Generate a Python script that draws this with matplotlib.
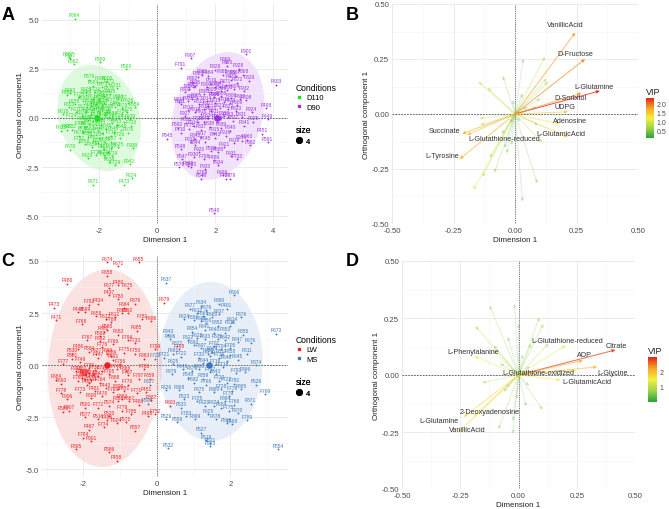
import matplotlib
matplotlib.use('Agg')
import matplotlib.pyplot as plt
import numpy as np
from matplotlib.patches import Ellipse
from matplotlib.colors import LinearSegmentedColormap, Normalize
from matplotlib.cm import ScalarMappable
from matplotlib.lines import Line2D

plt.rcParams['font.family'] = ['Liberation Sans', 'DejaVu Sans']
plt.rcParams['axes.unicode_minus'] = False

# ---------------- Panel A data ----------------
a_d110 = [("F664", -2.85, 5.05), ("F887", -3.05, 3.1), ("F667", -3.0, 3.05), ("F562", -2.88, 2.75),
          ("F589", -1.97, 2.85), ("F590", -1.07, 2.48), ("F579", -2.35, 1.95), ("F684", -2.2, 1.65),
          ("F606", -1.95, 1.85), ("F600", -1.72, 1.85), ("F471", -1.65, 1.72), ("F573", -1.9, 1.55),
          ("F576", -1.65, 1.35), ("F619", -1.62, 1.2), ("F605", -2.45, 1.3), ("F609", -2.45, 1.15),
          ("F662", -3.1, 1.15), ("F663", -3.0, 1.25), ("F581", -2.55, 0.85), ("F614", -2.2, 0.95),
          ("F620", -2.0, 0.9), ("F583", -1.85, 0.75), ("F624", -1.35, 0.95), ("F627", -1.25, 0.9),
          ("F626", -1.0, 0.75), ("F559", -0.78, 0.55), ("F655", -2.85, 0.7), ("F653", -3.05, 0.55),
          ("F618", -3.25, 0.2), ("F611", -2.8, 0.3), ("F608", -2.6, 0.1), ("F612", -2.3, 0.2),
          ("F615", -2.1, 0.05), ("F617", -2.0, 0.25), ("F622", -1.8, 0.15), ("F628", -1.55, 0.1),
          ("F629", -1.35, 0.0), ("F639", -0.95, -0.05), ("F633", -3.3, -0.65), ("F637", -3.1, -0.6),
          ("F632", -2.95, -0.6), ("F640", -2.5, -0.45), ("F641", -2.35, -0.3), ("F643", -2.15, -0.5),
          ("F644", -1.95, -0.35), ("F645", -1.75, -0.55), ("F646", -1.5, -0.7), ("F648", -1.25, -0.6),
          ("F676", -1.0, -0.75), ("F650", -2.4, -0.95), ("F652", -2.2, -1.15), ("F654", -2.0, -1.0),
          ("F656", -1.8, -1.25), ("F657", -1.6, -1.2), ("F658", -2.5, -1.35), ("F659", -2.25, -1.5),
          ("F661", -1.85, -1.6), ("F665", -1.6, -1.55), ("F625", -1.35, -1.5), ("F939", -0.85, -1.55),
          ("F670", -3.0, -1.62), ("F423", -2.4, -2.05), ("F621", -1.85, -1.9), ("F634", -1.65, -2.25),
          ("F942", -0.95, -2.35), ("F671", -2.2, -3.4), ("F473", -1.15, -3.4), ("F624", -0.88, -3.08),
          ("F666", -2.05, 0.55), ("F668", -1.7, 0.45), ("F672", -2.55, 0.45), ("F673", -2.2, -0.15),
          ("F674", -1.9, -0.75), ("F675", -2.7, -0.9), ("F677", -2.05, -1.3), ("F678", -1.45, 0.55),
          ("F679", -1.2, 0.5), ("F680", -2.3, 0.6), ("F681", -1.75, 0.95), ("F682", -2.35, -0.7),
          ("F683", -1.55, -0.25), ("F685", -2.6, -0.2),
          ("F700", -2.3, 0.75), ("F701", -2.1, 0.7), ("F702", -1.9, 0.6), ("F703", -1.75, 0.3),
          ("F704", -2.45, 0.3), ("F705", -2.25, 0.4), ("F706", -2.05, 0.35), ("F707", -1.65, 0.05),
          ("F708", -1.9, -0.05), ("F709", -2.4, -0.1), ("F710", -2.65, -0.45), ("F711", -2.05, -0.65),
          ("F712", -1.6, -0.9), ("F713", -1.4, -0.35), ("F714", -1.15, -0.2), ("F715", -2.3, -0.85),
          ("F716", -1.95, -1.45), ("F717", -1.7, -1.75), ("F718", -2.1, -1.9), ("F719", -1.55, -1.95),
          ("F720", -2.15, 1.3), ("F721", -1.85, 1.1), ("F722", -1.5, 0.75), ("F723", -2.7, 1.05),
          ("F724", -2.95, 0.0), ("F725", -1.05, 0.3), ("F726", -1.3, -1.0), ("F727", -2.55, -0.7),
          ("F728", -1.8, -2.0), ("F729", -1.45, -2.4), ("F730", -2.0, 1.15), ("F731", -1.4, 1.5),
          ("F732", -2.7, -1.2), ("F733", -0.9, -0.4), ("F734", -1.2, 0.2)]
a_d90 = [("F907", 1.15, 3.05), ("F791", 0.8, 2.55), ("F901", 3.05, 3.25), ("F869", 2.35, 2.85),
         ("F850", 2.4, 2.65), ("F603", 4.1, 1.7), ("F829", 3.15, 1.9), ("F861", 1.55, 2.2),
         ("F864", 1.75, 2.15), ("F865", 2.25, 2.2), ("F866", 2.5, 2.15), ("F867", 2.7, 2.15),
         ("F868", 2.95, 2.2), ("F870", 2.55, 1.95), ("F519", 1.85, 1.75), ("F871", 2.35, 1.7),
         ("F872", 2.75, 1.8), ("F896", 2.2, 1.35), ("F800", 1.1, 1.45), ("F802", 0.95, 1.3),
         ("F803", 1.6, 1.2), ("F805", 1.85, 1.3), ("F806", 2.55, 1.0), ("F807", 2.85, 0.95),
         ("F808", 3.05, 0.9), ("F810", 0.75, 0.8), ("F811", 0.8, 0.7), ("F812", 1.2, 0.95),
         ("F813", 1.45, 0.7), ("F814", 1.7, 0.85), ("F815", 2.0, 0.75), ("F816", 2.3, 0.8),
         ("F817", 1.05, 0.4), ("F818", 1.3, 0.3), ("F819", 1.6, 0.45), ("F820", 1.85, 0.35),
         ("F821", 2.15, 0.5), ("F822", 2.45, 0.45), ("F823", 2.7, 0.35), ("F498", 3.75, 0.5),
         ("F449", 3.8, -0.05), ("F831", 2.9, 0.05), ("F832", 2.6, -0.15), ("F833", 2.3, 0.1),
         ("F834", 1.75, 0.0), ("F835", 1.4, -0.2), ("F836", 1.0, -0.25), ("F592", 0.7, -0.5),
         ("F775", 1.1, -0.55), ("F837", 1.5, -0.6), ("F838", 1.8, -0.45), ("F839", 2.2, -0.5),
         ("F840", 2.5, -0.65), ("F841", 3.0, -0.4), ("F451", 3.6, -0.8), ("F591", 3.8, -1.25),
         ("F545", 0.35, -1.05), ("F710", 0.8, -0.75), ("F842", 1.3, -1.05), ("F745", 1.65, -1.2),
         ("F843", 2.0, -1.0), ("F956", 2.9, -1.15), ("F960", 3.1, -1.1), ("F962", 3.2, -1.4),
         ("F548", 0.8, -1.6), ("F844", 1.3, -1.4), ("F589", 1.85, -1.7), ("F585", 2.1, -1.75),
         ("F547", 0.85, -2.1), ("F798", 1.6, -2.1), ("F486", 1.95, -2.15), ("F733", 2.75, -2.1),
         ("F578", 0.75, -2.5), ("F890", 1.05, -2.45), ("F893", 1.15, -2.5), ("F769", 1.55, -2.9),
         ("F549", 1.5, -3.1), ("F666", 2.25, -2.9), ("F739", 2.35, -3.1), ("F779", 2.5, -3.1),
         ("F540", 1.95, -4.85), ("F862", 1.2, 1.85), ("F863", 1.4, 2.1), ("F846", 1.95, 1.05),
         ("F847", 2.15, 1.6), ("F848", 1.6, -0.2), ("F849", 2.05, -0.2), ("F851", 1.25, 1.55),
         ("F900", 1.7, 1.55), ("F902", 2.0, 1.55), ("F903", 2.4, 1.4), ("F904", 2.65, 1.45),
         ("F905", 1.35, 1.0), ("F906", 1.95, 1.05), ("F908", 2.2, 1.1), ("F909", 2.75, 0.65),
         ("F910", 1.5, 0.2), ("F911", 1.95, 0.2), ("F912", 2.15, -0.05), ("F913", 2.45, 0.05),
         ("F914", 1.25, -0.4), ("F915", 1.95, -0.75), ("F916", 2.35, -0.9), ("F917", 1.5, -0.95),
         ("F918", 2.65, -1.3), ("F919", 1.15, -1.25), ("F920", 1.45, -1.75), ("F921", 2.3, -1.5),
         ("F922", 1.75, 0.6), ("F923", 2.5, 0.75), ("F924", 3.25, 0.3), ("F925", 3.3, -0.2),
         ("F926", 1.05, 0.85), ("F927", 0.95, 0.1), ("F928", 2.8, 2.5), ("F929", 2.0, 2.45),
         ("F930", 1.25, -2.0), ("F931", 2.55, -1.95), ("F932", 3.0, 1.35), ("F933", 1.65, -2.6),
         ("F934", 2.1, -2.4), ("F935", 1.3, 1.65)]
a_centroids = {"D110": (-2.07, 0.0), "D90": (2.05, 0.0)}
a_ellipses = {"D110": (-2.0, 0.0, 2.8, 5.45, 8), "D90": (2.08, 0.1, 3.1, 6.55, -8)}

# ---------------- Panel C data ----------------
c_lw = [("F674", -1.35, 4.95), ("F671", -1.05, 4.75), ("F655", -0.5, 4.95), ("F658", -1.35, 4.3),
        ("F480", -2.45, 3.9), ("F480", -1.05, 3.85), ("F677", -1.3, 3.7), ("F675", -0.8, 3.7),
        ("F437", -1.3, 3.35), ("F473", -2.8, 2.75), ("F434", -1.6, 2.95), ("F676", -0.6, 2.95),
        ("F448", -2.15, 2.55), ("F599", -1.95, 2.55), ("F664", -0.9, 2.75), ("F862", -0.95, 2.5),
        ("F892", -0.8, 2.5), ("F658", -1.65, 2.35), ("F672", -1.4, 2.2), ("F612", -1.15, 2.3),
        ("F471", -2.75, 2.15), ("F688", -0.15, 2.1), ("F679", 0.2, 3.0), ("F595", -1.35, 1.7),
        ("F681", -1.45, 1.6), ("F582", -1.55, 1.4), ("F683", -1.05, 1.45), ("F685", -0.55, 1.65),
        ("F662", -1.55, 1.15), ("F794", -0.8, 1.2), ("F733", -0.6, 1.05), ("F486", -2.15, 0.75),
        ("F530", -2.3, 0.55), ("F501", -2.3, 0.3), ("F584", -1.85, 0.65), ("F627", -1.65, 0.55),
        ("F669", -1.35, 0.55), ("F589", -1.25, 0.45), ("F591", -1.2, 0.25), ("F798", 0.6, 0.75),
        ("F799", -0.05, 0.75), ("F863", -0.35, 0.3), ("F918", -2.2, -0.3), ("F593", -2.0, -0.45),
        ("F736", -1.85, -0.15), ("F738", -1.7, -0.25), ("F740", -1.95, -0.65), ("F741", -1.8, -0.7),
        ("F742", -1.6, -0.55), ("F684", -2.75, -0.7), ("F693", -2.6, -0.9), ("F866", -0.85, -0.3),
        ("F787", -0.8, -0.5), ("F796", -1.0, 0.05), ("F797", -0.5, -0.65), ("F659", -0.2, -0.65),
        ("F888", -1.15, -0.75), ("F493", -1.9, -0.95), ("F481", -1.7, -1.25), ("F440", -1.4, -1.1),
        ("F800", -1.05, -1.15), ("F760", -1.2, -1.3), ("F851", -0.9, -1.25), ("F451", -0.3, -1.3),
        ("F906", -2.45, -1.65), ("F600", -1.8, -1.6), ("F470", -1.5, -1.5), ("F861", -1.05, -1.75),
        ("F862", -0.95, -1.65), ("F867", -0.75, -1.75), ("F580", -2.55, -2.25), ("F907", -2.4, -2.2),
        ("F501", -1.95, -2.05), ("F574", -1.3, -1.95), ("F577", -1.95, -2.5), ("F516", -1.6, -2.6),
        ("F520", -1.3, -2.45), ("F496", -1.35, -2.65), ("F575", -0.85, -2.75), ("F557", -0.6, -3.15),
        ("F498", -0.25, -2.45), ("F752", -0.05, -2.35), ("F504", -1.1, -2.8), ("F467", -1.85, -3.1),
        ("F901", -1.8, -3.65), ("F895", -2.2, -4.05), ("F586", -1.3, -4.2), ("F458", -1.1, -4.6),
        ("F603", 0.35, -1.95), ("F887", -0.15, -1.7), ("F488", -0.5, -1.9), ("F741", -1.95, -0.45),
        ("F742", -1.75, -0.5), ("F743", -2.05, -0.6), ("F744", -1.85, -0.85), ("F746", -1.5, -0.3),
        ("F747", -1.6, 0.35), ("F748", -1.1, -0.2), ("F749", -2.1, 0.15), ("F750", -0.6, 0.55),
        ("F760", -2.05, -0.3), ("F761", -1.95, -0.5), ("F762", -1.7, -0.65), ("F763", -2.15, -0.75),
        ("F764", -1.55, -0.85), ("F765", -1.3, -0.45), ("F766", -1.2, 1.0), ("F767", -1.9, 1.2),
        ("F768", -2.05, 1.95), ("F769", -1.25, 2.05), ("F770", -0.8, -0.95), ("F771", -0.55, -1.35),
        ("F772", -1.6, -2.05), ("F773", -2.1, -1.3), ("F774", -1.45, -3.0), ("F775", -0.9, 0.6),
        ("F776", -1.5, 0.85), ("F777", -2.55, 0.05), ("F778", -2.6, -1.35), ("F779", -0.95, -2.2),
        ("F780", -0.35, -0.2), ("F781", -0.4, 2.2), ("F782", -1.85, 2.9), ("F783", -1.05, 3.15),
        ("F784", -2.0, -3.5), ("F785", -0.7, -2.35)]
c_ms = [("F637", 0.25, 3.95), ("F608", 2.1, 3.35), ("F880", 1.7, 2.95), ("F401", 1.9, 2.7),
        ("F634", 1.2, 2.85), ("F676", 1.35, 2.65), ("F637", 1.7, 2.45), ("F612", 1.1, 2.5),
        ("F668", 1.25, 2.35), ("F660", 1.5, 2.3), ("F624", 0.75, 2.2), ("F691", 1.0, 2.15),
        ("F605", 1.2, 2.1), ("F614", 2.05, 2.05), ("F616", 2.0, 1.9), ("F673", 3.25, 1.5),
        ("F943", 0.3, 1.45), ("F606", 0.35, 1.25), ("F622", 0.85, 1.2), ("F623", 1.1, 1.3),
        ("F633", 1.3, 1.25), ("F635", 1.65, 1.25), ("F642", 1.85, 1.2), ("F647", 2.2, 1.1),
        ("F676", 2.55, 1.05), ("F693", 1.0, 0.95), ("F697", 1.2, 0.8), ("F701", 1.55, 0.9),
        ("F704", 1.75, 0.75), ("F705", 2.0, 0.8), ("F611", 2.45, 0.55), ("F681", 0.45, 0.55),
        ("F721", 0.2, 0.35), ("F722", 0.65, 0.4), ("F733", 1.15, 0.35), ("F712", 1.45, 0.45),
        ("F714", 1.7, 0.35), ("F645", 2.2, 0.25), ("F625", 0.45, 0.05), ("F716", 1.6, 0.05),
        ("F718", 1.8, -0.1), ("F679", 0.95, -0.3), ("F680", 1.15, -0.2), ("F717", 1.45, -0.35),
        ("F781", 2.15, -0.4), ("F549", 0.85, -0.6), ("F692", 1.0, -0.85), ("F766", 1.35, -0.95),
        ("F720", 1.7, -0.75), ("F722", 1.9, -0.85), ("F782", 2.1, -0.9), ("F728", 1.75, -1.15),
        ("F776", 2.05, -1.25), ("F526", 2.7, -0.95), ("F769", 2.95, -1.4), ("F626", 0.25, -1.2),
        ("F533", 0.65, -2.05), ("F523", 0.75, -1.65), ("F725", 1.1, -1.75), ("F620", 1.3, -1.95),
        ("F624", 1.55, -1.95), ("F684", 1.75, -2.05), ("F779", 1.95, -1.5), ("F766", 2.1, -1.9),
        ("F775", 1.95, -2.2), ("F625", 1.4, -2.35), ("F783", 0.8, -2.45), ("F529", 0.25, -2.6),
        ("F559", 0.55, -2.75), ("F568", 1.9, -2.8), ("F569", 2.05, -2.85), ("F789", 2.45, -2.65),
        ("F527", 1.2, -3.25), ("F519", 1.35, -3.6), ("F521", 1.45, -3.75), ("F523", 1.45, -3.9),
        ("F532", 0.3, -4.0), ("F554", 3.3, -4.05), ("F721", -0.05, 0.3), ("F827", -0.2, -0.95),
        ("F506", -0.25, -1.85), ("F640", 1.55, 1.55), ("F641", 1.3, 1.7), ("F643", 1.6, -0.45),
        ("F644", 1.25, 0.1), ("F646", 1.9, 0.2), ("F648", 0.7, -0.2), ("F649", 1.5, 0.65),
        ("F850", 1.35, 2.0), ("F852", 1.65, 1.9), ("F853", 1.85, 1.55), ("F854", 0.95, 1.6),
        ("F855", 2.35, 1.45), ("F856", 1.4, 0.55), ("F857", 1.75, 0.5), ("F858", 2.0, 0.5),
        ("F859", 1.25, -0.65), ("F860", 1.55, -1.3), ("F864", 1.85, -1.75), ("F865", 2.3, -1.15),
        ("F866", 2.4, -0.35), ("F868", 0.6, -1.2), ("F869", 1.05, -2.6), ("F870", 2.2, -2.3),
        ("F871", 2.55, -1.85), ("F872", 0.55, 0.9), ("F874", 2.7, 0.0), ("F875", 1.15, -1.3),
        ("F876", 2.3, 2.3), ("F877", 0.9, 2.7), ("F878", 1.6, -2.6), ("F879", 0.4, -0.45)]
c_centroids = {"LW": (-1.35, 0.0), "MS": (1.43, 0.0)}
c_ellipses = {"LW": (-1.42, -0.15, 3.1, 9.5, -1), "MS": (1.47, 0.17, 2.83, 7.65, 0)}

# ---------------- Panel B data (loadings) ----------------
b_names = ["VanillicAcid", "D-Fructose", "L-Glutamine", "D-Sorbitol", "UDPG", "Adenosine",
           "L-GlutamicAcid", "Succinate", "L-Glutathione-reduced", "L-Tyrosine"]
b_x = [0.245, 0.285, 0.345, 0.27, 0.215, 0.18, 0.215, -0.215, -0.195, -0.225]
b_y = [0.37, 0.25, 0.105, 0.095, 0.01, -0.045, -0.105, -0.09, -0.095, -0.205]
b_vip = [1.8, 1.9, 2.3, 1.85, 1.55, 1.35, 1.5, 1.7, 1.6, 1.7]
b_other_x = [0.034, 0.122, -0.149, -0.112, -0.05, 0.129, 0.135, 0.104, 0.031, -0.009, 0.051, 0.088,
             -0.142, -0.104, -0.084, -0.133, -0.169, 0.091, 0.031, -0.034, -0.043, -0.014, -0.054,
             0.095, 0.111, -0.02, 0.02, -0.145]
b_other_y = [0.253, 0.26, 0.147, 0.12, 0.173, 0.162, 0.147, 0.071, 0.094, 0.064, 0.033, 0.033,
             -0.05, -0.2, -0.267, -0.285, -0.345, -0.315, -0.398, -0.179, -0.156, -0.141, -0.092,
             -0.05, -0.13, -0.042, -0.035, -0.02]
b_other_vip = [0.3, 0.8, 0.9, 0.8, 0.5, 0.8, 0.7, 0.6, 0.4, 0.3, 0.4, 0.6,
               0.8, 0.6, 0.6, 0.8, 1.1, 0.5, 0.3, 0.4, 0.4, 0.3, 0.4,
               0.6, 0.7, 0.2, 0.2, 0.8]
b_label_pos = {"VanillicAcid": (0.205, 0.405), "D-Fructose": (0.245, 0.275), "L-Glutamine": (0.32, 0.125),
               "D-Sorbitol": (0.225, 0.075), "UDPG": (0.205, 0.032), "Adenosine": (0.225, -0.03),
               "L-GlutamicAcid": (0.185, -0.09), "Succinate": (-0.285, -0.077),
               "L-Glutathione-reduced": (-0.045, -0.11), "L-Tyrosine": (-0.295, -0.19)}

# ---------------- Panel D data (loadings) ----------------
d_names = ["Citrate", "ADP", "L-Glycine", "L-Glutathione-reduced", "L-Glutathione-oxidized",
           "L-GlutamicAcid", "L-Phenylalanine", "2-Deoxyadenosine", "L-Glutamine", "VanillicAcid"]
d_x = [0.416, 0.276, 0.338, 0.203, 0.245, 0.18, -0.189, -0.192, -0.235, -0.26]
d_y = [0.11, 0.064, 0.036, 0.13, 0.022, -0.022, 0.083, -0.18, -0.184, -0.253]
d_vip = [2.7, 2.1, 2.0, 1.3, 1.6, 1.3, 1.3, 1.5, 1.75, 1.75]
d_other_x = [-0.124, -0.017, 0.0, 0.09, 0.107, -0.186, -0.046, -0.107, -0.11, -0.079, 0.054, 0.019,
             0.05, 0.129, -0.157, -0.064, -0.024, -0.086, -0.024, 0.033, 0.104, -0.007, 0.046, -0.054]
d_other_y = [0.305, 0.313, 0.226, 0.254, 0.224, 0.214, 0.168, 0.13, 0.108, 0.051, 0.138, 0.09,
             0.039, 0.138, -0.034, -0.074, -0.201, -0.238, -0.259, -0.138, -0.153, -0.106, -0.048, -0.055]
d_other_vip = [0.8, 0.3, 0.4, 0.8, 0.8, 1.0, 0.4, 0.7, 0.7, 0.5, 0.6, 0.4,
               0.5, 0.8, 0.9, 0.5, 0.4, 0.6, 0.3, 0.4, 0.7, 0.3, 0.4, 0.4]
d_label_pos = {"Citrate": (0.42, 0.13), "ADP": (0.283, 0.088), "L-Glycine": (0.404, 0.01),
               "L-Glutathione-reduced": (0.209, 0.153), "L-Glutathione-oxidized": (0.087, 0.01),
               "L-GlutamicAcid": (0.295, -0.03), "L-Phenylalanine": (-0.194, 0.105),
               "2-Deoxyadenosine": (-0.124, -0.162), "L-Glutamine": (-0.342, -0.199),
               "VanillicAcid": (-0.218, -0.238)}

# ---------------- Styles ----------------
COL = {"D110": "#22dd22", "D90": "#9a2fe0", "LW": "#ec1f24", "MS": "#3a78bd"}
ELL = {"D110": "#3ee83e", "D90": "#b45cf0", "LW": "#f25a5a", "MS": "#7aa6d6"}
vip_cmap = LinearSegmentedColormap.from_list("vip", ["#25a33a", "#9fd44a", "#f4f03c", "#f5a623", "#e3221c"])

W, H = 669, 510
fig = plt.figure(figsize=(W / 100, H / 100), dpi=100)


def rect(l, t, r, b):
    return [l / W, 1 - b / H, (r - l) / W, (b - t) / H]


def style(ax, xlim, ylim, xt, yt, xminor, yminor, xfmt, yfmt, ylabel):
    ax.set_xlim(xlim)
    ax.set_ylim(ylim)
    ax.set_xticks(xt)
    ax.set_yticks(yt)
    ax.set_xticks(xminor, minor=True)
    ax.set_yticks(yminor, minor=True)
    ax.set_xticklabels([xfmt(v) for v in xt])
    ax.set_yticklabels([yfmt(v) for v in yt])
    ax.grid(which='major', color='#e8e8e8', lw=0.6)
    ax.grid(which='minor', color='#f3f3f3', lw=0.4)
    for s in ax.spines.values():
        s.set_visible(False)
    ax.tick_params(which='both', length=0, labelsize=5.6, labelcolor='#4d4d4d', pad=2)
    ax.set_axisbelow(True)
    ax.set_xlabel('Dimension 1', fontsize=5.8, labelpad=1.5, color='#222222')
    ax.set_ylabel(ylabel, fontsize=5.8, labelpad=1.5, color='#222222')
    ax.axhline(0, color='#555555', lw=0.6, ls=(0, (2, 1.5)), zorder=1)
    ax.axvline(0, color='#555555', lw=0.6, ls=(0, (1, 1.2)), zorder=1)


def scores(ax, groups, centroids, ellipses):
    for g, pts in groups.items():
        cx, cy, w, h, ang = ellipses[g]
        ax.add_patch(Ellipse((cx, cy), w, h, angle=ang, facecolor=ELL[g], alpha=0.18,
                             edgecolor='none', zorder=0.5))
    for g, pts in groups.items():
        xs = [p[1] for p in pts]
        ys = [p[2] for p in pts]
        ax.scatter(xs, ys, s=1.8, color=COL[g], zorder=3, linewidths=0)
        for lab, x, y in pts:
            ax.annotate(lab, (x, y), xytext=(0, 1.0), textcoords='offset points', ha='center',
                        va='bottom', fontsize=3.5, color=COL[g], zorder=4)
        ax.scatter([centroids[g][0]], [centroids[g][1]], s=22, color=COL[g], zorder=5, linewidths=0)


def loadings(ax, names, xs, ys, vips, ox, oy, ovip, lpos, norm):
    allv = list(vips) + list(ovip)
    def draw(x, y, v):
        c = vip_cmap(norm(v))
        a = 0.18 + 0.62 * (v - min(allv)) / (max(allv) - min(allv))
        ax.annotate('', xy=(x, y), xytext=(0, 0),
                    arrowprops=dict(arrowstyle='-|>', color=c, lw=0.7, alpha=a,
                                    mutation_scale=4.5, shrinkA=0, shrinkB=0), zorder=3)
    for x, y, v in zip(ox, oy, ovip):
        draw(x, y, v)
    for n, x, y, v in zip(names, xs, ys, vips):
        draw(x, y, v)
        lx, ly = lpos[n]
        ax.text(lx, ly, n, fontsize=5.2, color='#333333', ha='center', va='center', zorder=5)


fmt_int = lambda v: f"{v:g}"
fmt_1 = lambda v: f"{v:.1f}"
fmt_2 = lambda v: f"{v:.2f}"

# Panel A
axA = fig.add_axes(rect(42, 5, 288, 225))
style(axA, (-3.97, 4.5), (-5.4, 5.8), [-2, 0, 2, 4], [-5, -2.5, 0, 2.5, 5],
      [-3, -1, 1, 3], [-3.75, -1.25, 1.25, 3.75], fmt_int, fmt_1, 'Orthogonal component1')
scores(axA, {"D110": a_d110, "D90": a_d90}, a_centroids, a_ellipses)

# Panel C
axC = fig.add_axes(rect(42, 257, 288, 478))
style(axC, (-3.13, 3.57), (-5.38, 5.24), [-2, 0, 2], [-5, -2.5, 0, 2.5, 5],
      [-3, -1, 1, 3], [-3.75, -1.25, 1.25, 3.75], fmt_int, fmt_1, 'Orthogonal component1')
scores(axC, {"LW": c_lw, "MS": c_ms}, c_centroids, c_ellipses)

# Panel B
axB = fig.add_axes(rect(392, 5, 638, 225))
ticks = [-0.5, -0.25, 0, 0.25, 0.5]
minor = [-0.375, -0.125, 0.125, 0.375]
style(axB, (-0.5, 0.5), (-0.5, 0.5), ticks, ticks, minor, minor, fmt_2, fmt_2, 'Orthogonal component 1')
normB = Normalize(0.07, 2.33)
loadings(axB, b_names, b_x, b_y, b_vip, b_other_x, b_other_y, b_other_vip, b_label_pos, normB)

# Panel D
axD = fig.add_axes(rect(402, 262, 635, 490))
style(axD, (-0.5, 0.5), (-0.5, 0.5), ticks, ticks, minor, minor, fmt_2, fmt_2, 'Orthogonal component 1')
normD = Normalize(0.02, 2.91)
loadings(axD, d_names, d_x, d_y, d_vip, d_other_x, d_other_y, d_other_vip, d_label_pos, normD)

# Colorbars
for (l, t, r, b), norm, cticks, cfmt in [((646, 99, 654, 139), normB, [0.5, 1.0, 1.5, 2.0], fmt_1),
                                         ((648, 358, 657, 403), normD, [1, 2], fmt_int)]:
    cax = fig.add_axes(rect(l, t, r, b))
    cb = fig.colorbar(ScalarMappable(norm=norm, cmap=vip_cmap), cax=cax)
    cb.outline.set_visible(False)
    cb.set_ticks(cticks)
    cb.set_ticklabels([cfmt(v) for v in cticks])
    cax.tick_params(length=0, labelsize=5, labelcolor='#4d4d4d', pad=2)
    cax.set_title('VIP', fontsize=6.5, loc='left', pad=3, color='#222222')

# Legends for score plots
for ax, groups, top in [(axA, ["D110", "D90"], 84), (axC, ["LW", "MS"], 336)]:
    h = [Line2D([], [], marker='s', ls='', color=COL[g], markersize=1.8,
                markerfacecolor=COL[g]) for g in groups]
    leg = ax.legend(h, groups, title='Conditions', loc='upper left',
                    bbox_to_anchor=(296 / W, 1 - top / H), bbox_transform=fig.transFigure,
                    frameon=False, fontsize=5.5, title_fontsize=6.2, handlelength=0.8,
                    handletextpad=0.5, labelspacing=0.25, borderpad=0, borderaxespad=0,
                    alignment='left')
    ax.add_artist(leg)
    hs = [Line2D([], [], marker='o', ls='', color='black', markersize=4)]
    leg2 = ax.legend(hs, ['4'], title='size', loc='upper left',
                     bbox_to_anchor=(296 / W, 1 - (top + 42) / H), bbox_transform=fig.transFigure,
                     frameon=False, fontsize=5.5, title_fontsize=6.2, handlelength=0.8,
                     handletextpad=0.5, borderpad=0, borderaxespad=0, alignment='left')
    ax.add_artist(leg2)

# Panel letters
for lab, x, y in [("A", 8, 15), ("B", 352, 15), ("C", 8, 262), ("D", 352, 262)]:
    fig.text(x / W, 1 - y / H, lab, fontsize=13, fontweight='bold', ha='center', va='center')

fig.savefig('out.png', dpi=100)
